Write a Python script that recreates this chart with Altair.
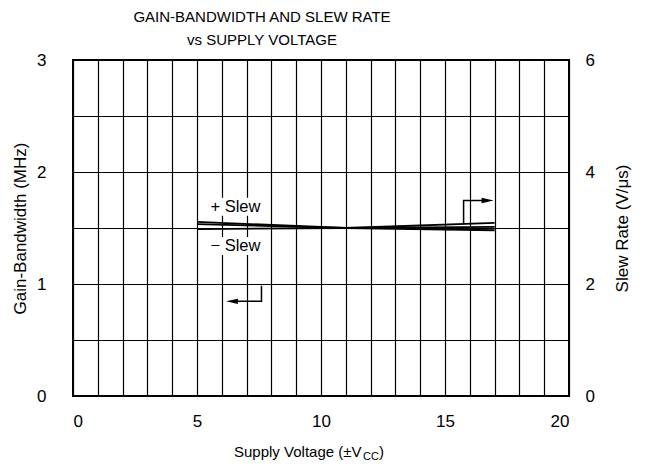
import altair as alt
import pandas as pd

FONT = "Liberation Sans"

# ---- data ----
supply_v = [5, 11, 17]
gbw_mhz = [1.555, 1.50, 1.48]          # left axis (MHz)
slew_pos = [3.07, 3.00, 3.09]          # right axis (V/us)
slew_neg = [2.98, 3.00, 3.02]          # right axis (V/us)

x_grid = list(range(0, 21))
left_grid = [0, 0.5, 1, 1.5, 2, 2.5, 3]
right_ticks = [0, 2, 4, 6]

label_text = ["+ Slew", "\u2212 Slew"]
label_x = [6.55, 6.55]
label_y = [1.69, 1.34]
box_x0 = [5.40, 5.40]
box_x1 = [7.80, 7.80]
box_y0 = [1.61, 1.26]
box_y1 = [1.77, 1.42]

# arrow annotations (left-axis units)
arrowR_x = [15.75, 15.75, 16.72]
arrowR_y = [1.536, 1.745, 1.745]
arrowL_x = [7.6, 7.6, 6.41]
arrowL_y = [0.985, 0.845, 0.845]
head_x = [16.72, 6.41]
head_y = [1.745, 0.845]
head_shape = ["M-1,-0.45L1,0L-1,0.45Z", "M1,-0.45L-1,0L1,0.45Z"]

W, H = 496, 336

gbw_df = pd.DataFrame({"v": supply_v, "gbw": gbw_mhz})
slew_df = pd.DataFrame({
    "v": supply_v * 2,
    "slew": slew_pos + slew_neg,
    "s": ["pos"] * 3 + ["neg"] * 3,
})
lab_df = pd.DataFrame({"t": label_text, "x": label_x, "y": label_y,
                       "x0": box_x0, "x1": box_x1, "y0": box_y0, "y1": box_y1})
arr_df = pd.DataFrame({
    "x": arrowR_x + arrowL_x,
    "y": arrowR_y + arrowL_y,
    "a": ["R"] * 3 + ["L"] * 3,
    "o": [0, 1, 2] * 2,
})

xscale = alt.Scale(domain=[0, 20], nice=False)
yl = alt.Scale(domain=[0, 3], nice=False)
yr = alt.Scale(domain=[0, 6], nice=False)

x_axis = alt.Axis(values=x_grid, labelExpr="datum.value % 5 == 0 ? datum.label : ''",
                  grid=True, gridColor="black", gridOpacity=1, gridWidth=1.2,
                  ticks=False, domain=False, labelPadding=17, labelFontSize=17,
                  labelFont=FONT, labelColor="black", labelAngle=0, title=None)

left_axis = alt.Axis(values=left_grid,
                     labelExpr="datum.value % 1 == 0 ? format(datum.value, 'd') : ''",
                     grid=True, gridColor="black", gridOpacity=1, gridWidth=1.2,
                     ticks=False, domain=False, labelPadding=27, labelFontSize=17,
                     labelFont=FONT, labelColor="black",
                     title="Gain-Bandwidth (MHz)", titleX=-53, titleY=H / 2,
                     titleAngle=-90, titleAlign="center", titleBaseline="middle",
                     titleFont=FONT, titleFontSize=17, titleFontWeight="normal",
                     titleColor="black")

right_axis = alt.Axis(values=right_ticks, orient="right", grid=False,
                      ticks=False, domain=False, labelPadding=16, labelFontSize=17,
                      labelFont=FONT, labelColor="black",
                      title="Slew Rate (V/\u03bcs)", titleX=53, titleY=H / 2,
                      titleAngle=-90, titleAlign="center", titleBaseline="middle",
                      titleFont=FONT, titleFontSize=17, titleFontWeight="normal",
                      titleColor="black")


def X(field):
    return alt.X(field, type="quantitative", scale=xscale, axis=x_axis)


gbw_layer = alt.Chart(gbw_df).mark_line(color="black", strokeWidth=1.8).encode(
    x=X("v"),
    y=alt.Y("gbw:Q", scale=yl, axis=left_axis),
)

slew_layer = alt.Chart(slew_df).mark_line(color="black", strokeWidth=1.8).encode(
    x=X("v"),
    y=alt.Y("slew:Q", scale=yr, axis=right_axis),
    detail="s:N",
)

box_layer = alt.Chart(lab_df).mark_rect(color="white").encode(
    x=X("x0"), x2="x1:Q",
    y=alt.Y("y0:Q", scale=yl, axis=None), y2="y1:Q",
)

text_layer = alt.Chart(lab_df).mark_text(font=FONT, fontSize=16.5, color="black",
                                          baseline="middle", align="center").encode(
    x=X("x"),
    y=alt.Y("y:Q", scale=yl, axis=None),
    text="t:N",
)

arrow_layer = alt.Chart(arr_df).mark_line(color="black", strokeWidth=1.5).encode(
    x=X("x"),
    y=alt.Y("y:Q", scale=yl, axis=None),
    detail="a:N",
    order="o:Q",
)

head_df = pd.DataFrame({"x": head_x, "y": head_y, "shape": head_shape})
head_layer = alt.Chart(head_df).mark_point(filled=True, color="black", opacity=1,
                                           size=144, strokeWidth=0).encode(
    x=X("x"),
    y=alt.Y("y:Q", scale=yl, axis=None),
    shape=alt.Shape("shape:N", scale=None, legend=None),
)

one = pd.DataFrame({"k": [0]})
title1 = alt.Chart(one).mark_text(text="GAIN-BANDWIDTH AND SLEW RATE", font=FONT,
                                  fontSize=15, color="black", align="center",
                                  baseline="middle").encode(
    x=alt.value(189), y=alt.value(-43))
title2 = alt.Chart(one).mark_text(text="vs SUPPLY VOLTAGE", font=FONT,
                                  fontSize=15, color="black", align="center",
                                  baseline="middle").encode(
    x=alt.value(189), y=alt.value(-20))

xt1 = alt.Chart(one).mark_text(text="Supply Voltage (\u00b1V", font=FONT, fontSize=15,
                               color="black", align="left", baseline="middle").encode(
    x=alt.value(161), y=alt.value(392))
xt2 = alt.Chart(one).mark_text(text="CC", font=FONT, fontSize=11,
                               color="black", align="left", baseline="middle").encode(
    x=alt.value(290), y=alt.value(397))
xt3 = alt.Chart(one).mark_text(text=")", font=FONT, fontSize=15,
                               color="black", align="left", baseline="middle").encode(
    x=alt.value(306), y=alt.value(392))

chart = alt.layer(
    gbw_layer, slew_layer, box_layer, text_layer, arrow_layer, head_layer,
    title1, title2, xt1, xt2, xt3,
).resolve_scale(y="independent").properties(
    width=W, height=H,
    background="white",
    autosize=alt.AutoSizeParams(type="none"),
    padding={"left": 65, "top": 52, "right": 66, "bottom": 70},
).configure_view(stroke="black", strokeWidth=2)

chart.save("out.html", embed_options={"renderer": "svg", "actions": False})
